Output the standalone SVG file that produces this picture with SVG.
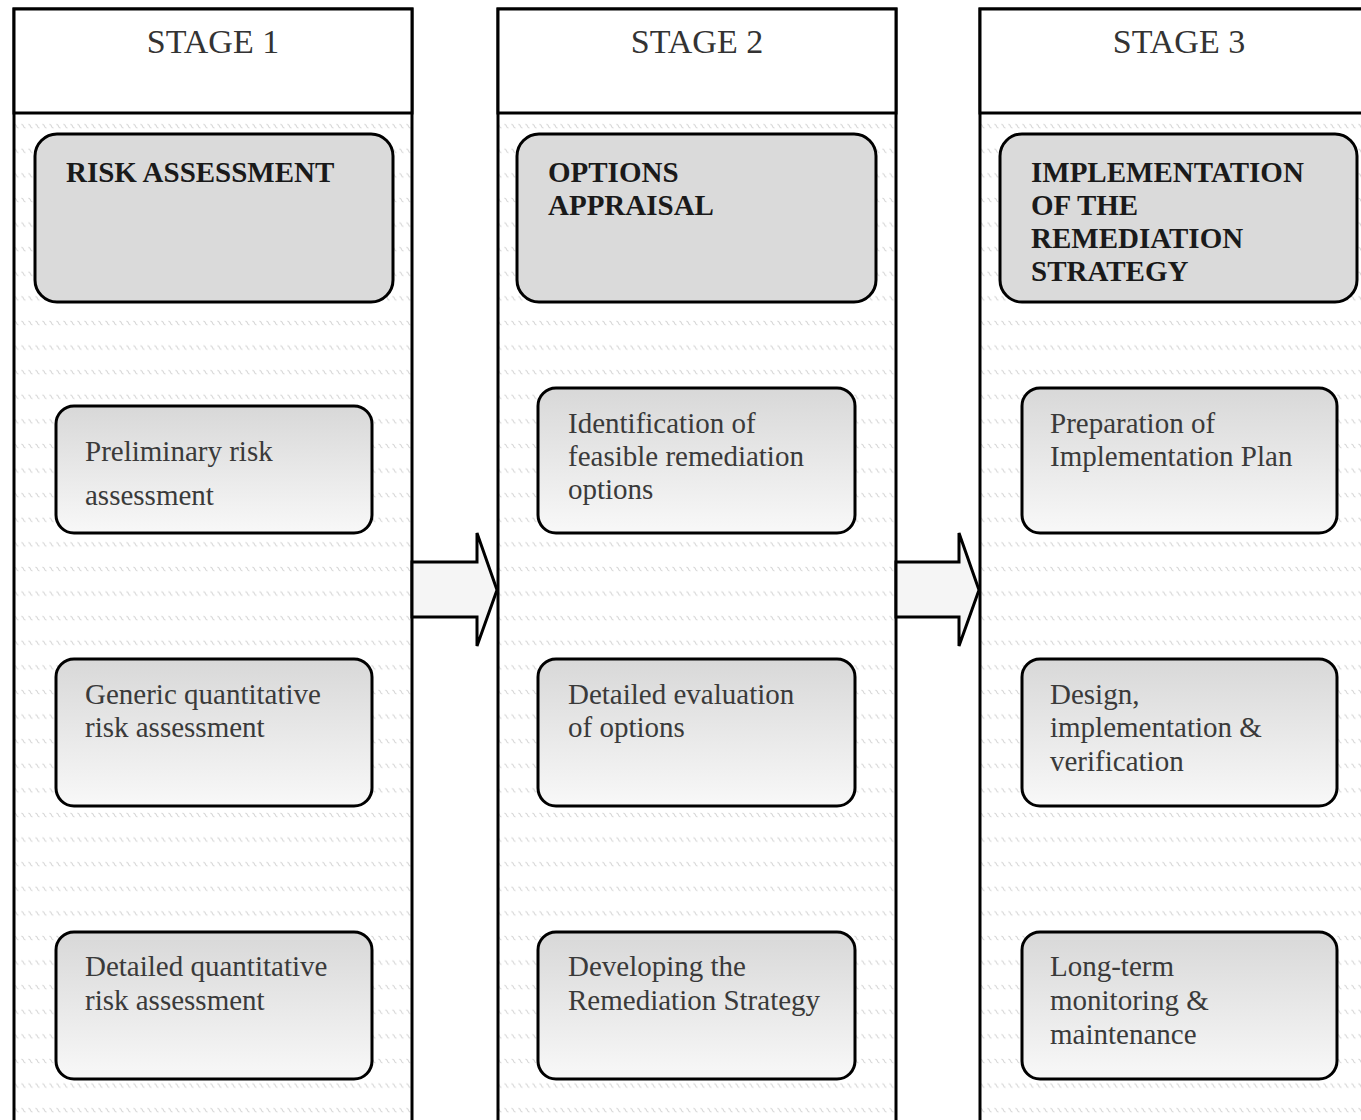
<svg xmlns="http://www.w3.org/2000/svg" width="1361" height="1120" viewBox="0 0 1361 1120">
  <defs>
    <!-- light wavy texture inside the stage columns -->
    <pattern id="wave" patternUnits="userSpaceOnUse" x="0" y="320" width="7" height="24.6">
      <path d="M0.5,1 L2,2 L3,4 L4.5,5" fill="none" stroke="#d4d4d4" stroke-width="1"/>
    </pattern>
    <linearGradient id="stepFill" x1="0" y1="0" x2="0" y2="1">
      <stop offset="0" stop-color="#d8d8d8"/>
      <stop offset="1" stop-color="#f8f8f8"/>
    </linearGradient>
    <style>
      .col { fill: url(#wave); stroke: #000; stroke-width: 3; }
      .head { fill: #fff; stroke: #000; stroke-width: 3; }
      .main { fill: #dadada; stroke: #000; stroke-width: 3; }
      .step { fill: url(#stepFill); stroke: #000; stroke-width: 3; }
      .arrow { fill: #f5f5f5; stroke: #000; stroke-width: 3; stroke-linejoin: miter; }
      .stage { font-family: "Liberation Serif", "Times New Roman", serif; font-size: 34px; fill: #333; text-anchor: middle; }
      .title { font-family: "Liberation Serif", "Times New Roman", serif; font-size: 29px; font-weight: bold; fill: #1a1a1a; }
      .label { font-family: "Liberation Serif", "Times New Roman", serif; font-size: 29px; fill: #3a3a3a; }
    </style>
  </defs>

  <rect x="0" y="0" width="1361" height="1120" fill="#fff"/>

  <!-- Stage 1 -->
  <g id="stage1">
    <rect class="col" x="14" y="9" width="398" height="1130"/>
    <rect class="head" x="14" y="9" width="398" height="104"/>
    <text class="stage" x="213" y="53">STAGE 1</text>
  </g>
  <g id="risk-assessment">
    <rect class="main" x="35" y="134" width="358" height="168" rx="22"/>
    <text class="title" x="66" y="182">RISK ASSESSMENT</text>
  </g>
  <g id="preliminary">
    <rect class="step" x="56" y="406" width="316" height="127" rx="18"/>
    <text class="label" x="85" y="461">Preliminary risk</text>
    <text class="label" x="85" y="505">assessment</text>
  </g>
  <g id="generic-qra">
    <rect class="step" x="56" y="659" width="316" height="147" rx="18"/>
    <text class="label" x="85" y="704">Generic quantitative</text>
    <text class="label" x="85" y="737">risk assessment</text>
  </g>
  <g id="detailed-qra">
    <rect class="step" x="56" y="932" width="316" height="147" rx="18"/>
    <text class="label" x="85" y="976">Detailed quantitative</text>
    <text class="label" x="85" y="1010">risk assessment</text>
  </g>

  <!-- Stage 2 -->
  <g id="stage2">
    <rect class="col" x="498" y="9" width="398" height="1130"/>
    <rect class="head" x="498" y="9" width="398" height="104"/>
    <text class="stage" x="697" y="53">STAGE 2</text>
  </g>
  <g id="options-appraisal">
    <rect class="main" x="517" y="134" width="359" height="168" rx="22"/>
    <text class="title" x="548" y="182">OPTIONS</text>
    <text class="title" x="548" y="215">APPRAISAL</text>
  </g>
  <g id="identification">
    <rect class="step" x="538" y="388" width="317" height="145" rx="18"/>
    <text class="label" x="568" y="433">Identification of</text>
    <text class="label" x="568" y="466">feasible remediation</text>
    <text class="label" x="568" y="499">options</text>
  </g>
  <g id="evaluation">
    <rect class="step" x="538" y="659" width="317" height="147" rx="18"/>
    <text class="label" x="568" y="704">Detailed evaluation</text>
    <text class="label" x="568" y="737">of options</text>
  </g>
  <g id="developing">
    <rect class="step" x="538" y="932" width="317" height="147" rx="18"/>
    <text class="label" x="568" y="976">Developing the</text>
    <text class="label" x="568" y="1010">Remediation Strategy</text>
  </g>

  <!-- Stage 3 -->
  <g id="stage3">
    <rect class="col" x="980" y="9" width="398" height="1130"/>
    <rect class="head" x="980" y="9" width="398" height="104"/>
    <text class="stage" x="1179" y="53">STAGE 3</text>
  </g>
  <g id="implementation">
    <rect class="main" x="1000" y="134" width="357" height="168" rx="22"/>
    <text class="title" x="1031" y="182">IMPLEMENTATION</text>
    <text class="title" x="1031" y="215">OF THE</text>
    <text class="title" x="1031" y="248">REMEDIATION</text>
    <text class="title" x="1031" y="281">STRATEGY</text>
  </g>
  <g id="preparation">
    <rect class="step" x="1022" y="388" width="315" height="145" rx="18"/>
    <text class="label" x="1050" y="433">Preparation of</text>
    <text class="label" x="1050" y="466">Implementation Plan</text>
  </g>
  <g id="design">
    <rect class="step" x="1022" y="659" width="315" height="147" rx="18"/>
    <text class="label" x="1050" y="704">Design,</text>
    <text class="label" x="1050" y="737">implementation &amp;</text>
    <text class="label" x="1050" y="771">verification</text>
  </g>
  <g id="monitoring">
    <rect class="step" x="1022" y="932" width="315" height="147" rx="18"/>
    <text class="label" x="1050" y="976">Long-term</text>
    <text class="label" x="1050" y="1010">monitoring &amp;</text>
    <text class="label" x="1050" y="1044">maintenance</text>
  </g>

  <!-- block arrows between stages -->
  <g id="connectors">
    <polygon class="arrow" points="412,562 477,562 477,533 497,590 477,646 477,617 412,617"/>
    <polygon class="arrow" points="896,562 959,562 959,533 979,590 959,646 959,617 896,617"/>
  </g>
</svg>
